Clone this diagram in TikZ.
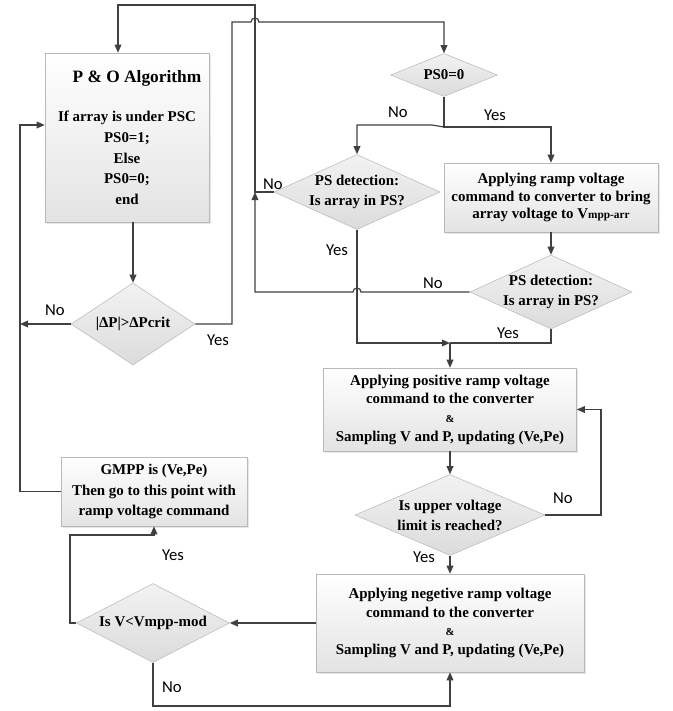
\documentclass[tikz,border=0pt]{standalone}
\usepackage{fontspec}
\setmainfont{Liberation Serif}
\newfontfamily\lab{Carlito}
\usetikzlibrary{shapes.geometric,arrows.meta,shadows}
\begin{document}
\begin{tikzpicture}[x=0.75pt,y=-0.75pt,
  b/.style={rectangle,draw=gray!55,top color=white,bottom color=gray!22,
    drop shadow={shadow xshift=1.2pt,shadow yshift=-1.2pt,opacity=.2},
    align=center,inner sep=2pt,font=\fontsize{11.2}{14}\selectfont\bfseries},
  d/.style={diamond,draw=gray!55,top color=gray!10,bottom color=gray!28,inner sep=0pt},
  t/.style={align=center,inner sep=0pt,font=\fontsize{11.2}{15}\selectfont\bfseries},
  e/.style={draw=black!75,line width=0.9pt},
  ar/.style={e,-{Triangle[length=6pt,width=5pt]}},
  l/.style={inner sep=0pt,font=\lab\fontsize{12.5}{14}\selectfont}]
\useasboundingbox (0,0) rectangle (672,711);
% left column
\node[b,minimum width=123pt,minimum height=126.75pt,font=\fontsize{11.2}{15.4}\selectfont\bfseries] (po) at (127,137.5)
  {\hspace*{15pt}{\fontsize{13}{15}\selectfont P \& O Algorithm}\\[14pt]If array is under PSC\\PS0=1;\\Else\\PS0=0;\\end};
\node[d,minimum width=93pt,minimum height=61.5pt,label={[t]center:{|ΔP|>ΔPcrit}}] (dp) at (133,324) {};
\node[b,minimum width=139.5pt,minimum height=51.75pt,font=\fontsize{11.2}{15.5}\selectfont\bfseries] (gm) at (154,491.5)
  {GMPP is (Ve,Pe)\\Then go to this point with\\ramp voltage command};
\node[d,minimum width=114.75pt,minimum height=59.25pt,label={[t]center:{Is V<Vmpp-mod}}] (vm) at (153,623) {};
% right column
\node[d,minimum width=80.25pt,minimum height=32.25pt,label={[t]center:{PS0=0}}] (ps0) at (444,75) {};
\node[d,minimum width=124.5pt,minimum height=56.25pt,label={[t]center:{PS detection:\\Is array in PS?}}] (ps1) at (357,192) {};
\node[b,minimum width=160.5pt,minimum height=51.75pt,font=\fontsize{11.2}{13.2}\selectfont\bfseries] (ra) at (551,197.5)
  {Applying ramp voltage\\command to converter to bring\\array voltage to V{\fontsize{8.5}{10}\selectfont mpp-arr}};
\node[d,minimum width=121.5pt,minimum height=55.5pt,label={[t]center:{PS detection:\\Is array in PS?}}] (ps2) at (551,292) {};
\node[b,minimum width=189.75pt,minimum height=62.25pt] (pos) at (450,409.5)
  {Applying positive ramp voltage\\command to the converter\\{\fontsize{8}{9}\selectfont\&}\\Sampling V and P, updating (Ve,Pe)};
\node[d,minimum width=142.5pt,minimum height=60.75pt,label={[t]center:{Is upper voltage\\limit is reached?}}] (up) at (450,515) {};
\node[b,minimum width=201pt,minimum height=73.5pt] (neg) at (450,623)
  {Applying negetive ramp voltage\\command to the converter\\{\fontsize{8}{9}\selectfont\&}\\Sampling V and P, updating (Ve,Pe)};
% branch labels
\node[l] (n1) at (55,310) {No};
\node[l] (y1) at (218,340) {Yes};
\node[l] (n2) at (398,112) {No};
\node[l] (y2) at (495,115) {Yes};
\node[l] (n3) at (273,184) {No};
\node[l] (y3) at (337,250) {Yes};
\node[l] (n4) at (433,283) {No};
\node[l] (y4) at (508,333) {Yes};
\node[l] (n5) at (563,498) {No};
\node[l] (y5) at (424,557) {Yes};
\node[l] (y6) at (173,555) {Yes};
\node[l] (n6) at (172,687) {No};
% joints
\coordinate (lj) at (20,324);
\coordinate (pj) at (444,127);
\coordinate (nj) at (255,192);
\coordinate (yj) at (450,343);
% connectors
\draw[ar] (dp.north |- po.south) -- (dp.north);
\draw[ar] (dp.west) -- (lj);
\draw[ar] (gm.west) -| (lj) |- (po.west |- 0,125);
\draw[ar] (dp.east) -| (232,22) -- (251,22) arc[start angle=180,end angle=0,radius=3pt] -| (ps0.north);
\draw[ar] (ps0.south) -- (pj) -| (ra.north);
\draw[ar] (pj) -- (432,125) -| (ps1.north);
\draw[ar] (ps1.west) -| (255,5) -| (po.north -| 118,0);
\draw[ar] (ps2.west) -- (361,292) arc[start angle=0,end angle=180,radius=3pt] -- (255,292) -- (nj);
\draw[ar] (ps1.south) |- (yj);
\draw[e] (ps2.south) |- (yj);
\draw[ar] (yj) -- (pos.north);
\draw[ar] (ra.south) -- (ps2.north);
\draw[ar] (pos.south) -- (up.north);
\draw[ar] (up.east) -- (601,515) |- (pos.east);
\draw[ar] (up.south) -- (neg.north);
\draw[ar] (neg.west) -- (vm.east);
\draw[ar] (vm.west) -- (70,623) |- (gm.south |- 0,535) -- (gm.south);
\draw[ar] (vm.south) -- (153,706) -| (neg.south);
\end{tikzpicture}
\end{document}
